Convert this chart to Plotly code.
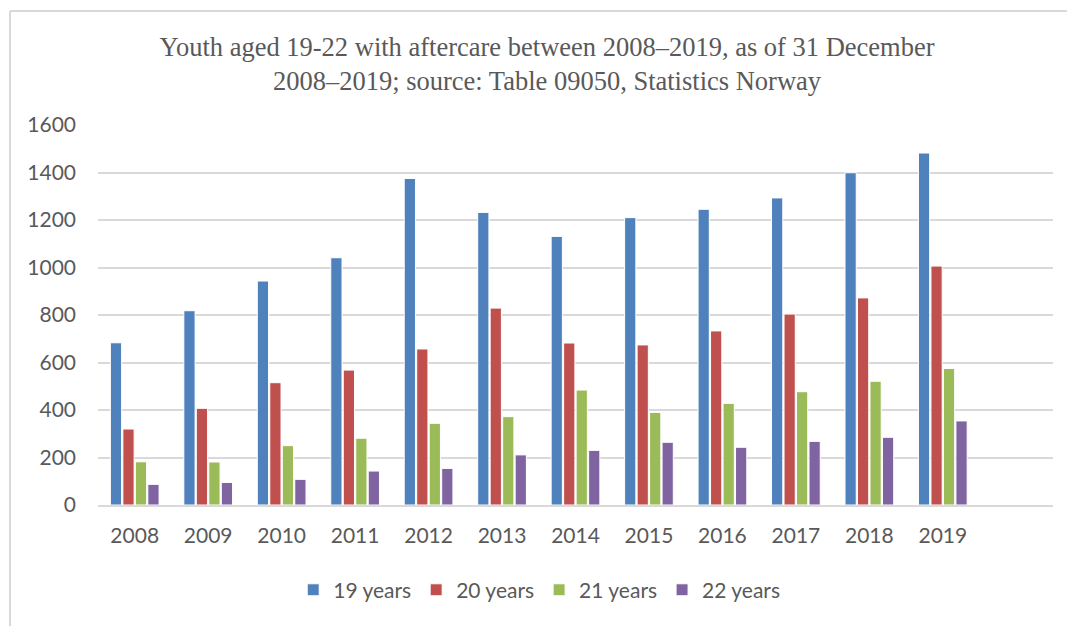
import plotly.graph_objects as go

# Years shown on the category axis (one spare slot is left empty at the right end)
years = ["2008", "2009", "2010", "2011", "2012", "2013",
         "2014", "2015", "2016", "2017", "2018", "2019"]

# Number of youth with aftercare per age group, as of 31 December
age_19 = [683, 818, 943, 1041, 1375, 1232, 1131, 1210, 1245, 1293, 1399, 1482]
age_20 = [320, 407, 515, 568, 657, 829, 682, 674, 733, 804, 872, 1006]
age_21 = [182, 181, 250, 281, 344, 372, 484, 390, 428, 477, 521, 575]
age_22 = [87, 95, 108, 143, 154, 211, 230, 264, 243, 268, 285, 354]

series_names = ["19 years", "20 years", "21 years", "22 years"]
series_values = [age_19, age_20, age_21, age_22]
series_colors = ["#4F81BD", "#C0504D", "#9BBB59", "#8064A2"]

y_ticks = [0, 200, 400, 600, 800, 1000, 1200, 1400, 1600]

label_font = dict(family="Lato, 'Open Sans', sans-serif", size=21, color="#595959")

fig = go.Figure()
for name, vals, color in zip(series_names, series_values, series_colors):
    fig.add_trace(go.Bar(
        x=years, y=vals, name=name,
        marker=dict(color=color, line=dict(color="white", width=1)),
    ))

# Light frame around the chart (top and left edges)
frame = dict(type="line", xref="paper", yref="paper",
             line=dict(color="#d9d9d9", width=2))
fig.add_shape(**frame, x0=-0.0921, x1=1.02, y0=1.3, y1=1.3)
fig.add_shape(**frame, x0=-0.0921, x1=-0.0921, y0=1.3, y1=-0.35)

fig.update_layout(
    width=1067, height=626,
    margin=dict(l=98, r=14, t=125, b=121),
    paper_bgcolor="white", plot_bgcolor="white",
    barmode="group", bargap=0.32, bargroupgap=0.1,
    title=dict(
        text="Youth aged 19-22 with aftercare between 2008–2019, as of 31 December"
             "<br>2008–2019; source: Table 09050, Statistics Norway",
        x=547 / 1067, xanchor="center", xref="container",
        y=1 - 56 / 626, yanchor="middle", yref="container",
        font=dict(family="'Liberation Serif', 'Times New Roman', serif",
                  size=26.5, color="#595959"),
    ),
    xaxis=dict(
        type="category", categoryorder="array", categoryarray=years,
        range=[-0.5, 12.5], showgrid=False, zeroline=False,
        showline=True, linecolor="#d9d9d9", linewidth=2,
        ticks="", tickfont=label_font, ticklabelstandoff=11,
    ),
    yaxis=dict(
        range=[0, 1600], tickvals=y_ticks, showgrid=True,
        gridcolor="#d9d9d9", gridwidth=2, zeroline=False,
        showline=False, ticks="", tickfont=label_font, ticklabelstandoff=21,
    ),
    legend=dict(
        orientation="h", x=0.462, xanchor="center", y=-0.224, yanchor="middle",
        font=label_font, itemwidth=30, traceorder="normal",
    ),
    showlegend=True,
)

fig.write_html("out.html")
